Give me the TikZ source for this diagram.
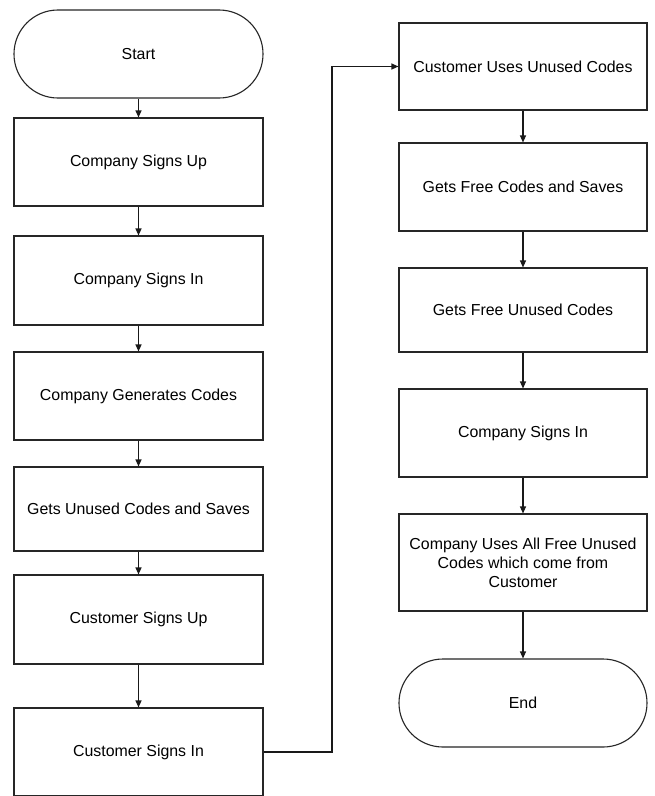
\documentclass[tikz,border=0pt]{standalone}
\usepackage{fontspec}
\setmainfont{Liberation Sans}
\usetikzlibrary{arrows.meta}
\begin{document}
\begin{tikzpicture}[x=1pt,y=-1pt,
  every node/.style={font=\fontsize{15.9}{19}\selectfont, align=center, inner sep=0pt, line width=1.1pt, draw=black!85},
  lbox/.style={rectangle, minimum width=249pt},
  rbox/.style={rectangle, minimum width=248pt},
  term/.style={rectangle, rounded corners=43.9pt},
  conn/.style={line width=1.1pt, draw=black!90, -{Triangle[length=7pt,width=6pt]}}]
\useasboundingbox (0,0) rectangle (654,796);
\fill[white] (0,0) rectangle (654,796);
\begin{scope}
\clip (0,0) rectangle (654,796);
% left column
\node[term, minimum width=249pt, minimum height=88pt] (start) at (138.5,54) {Start};
\node[lbox, minimum height=88pt] (csu) at (138.5,162) {Company Signs Up};
\node[lbox, minimum height=89pt] (csi) at (138.5,280.5) {Company Signs In};
\node[lbox, minimum height=88pt] (cgc) at (138.5,396) {Company Generates Codes};
\node[lbox, minimum height=84pt] (guc) at (138.5,509) {Gets Unused Codes and Saves};
\node[lbox, minimum height=89pt] (cusu) at (138.5,619.5) {Customer Signs Up};
\node[lbox, minimum height=88pt] (cusi) at (138.5,752) {Customer Signs In};
% right column
\node[rbox, minimum height=87pt] (cuuc) at (523,66.5) {Customer Uses Unused Codes};
\node[rbox, minimum height=88pt] (gfcs) at (523,187) {Gets Free Codes and Saves};
\node[rbox, minimum height=84pt] (gfuc) at (523,310) {Gets Free Unused Codes};
\node[rbox, minimum height=88pt] (csi2) at (523,433) {Company Signs In};
\node[rbox, minimum height=97pt] (cua) at (523,562.5) {Company Uses All Free Unused\\Codes which come from\\Customer};
\node[term, minimum width=248pt, minimum height=88pt] (end) at (523,703) {End};
% connectors
\draw[conn] (start) -- (csu);
\draw[conn] (csu) -- (csi);
\draw[conn] (csi) -- (cgc);
\draw[conn] (cgc) -- (guc);
\draw[conn] (guc) -- (cusu);
\draw[conn] (cusu) -- (cusi);
\coordinate (bendlow) at (332,752);
\coordinate (bendhigh) at (332,66.5);
\draw[conn] (cusi.east) -- (bendlow) -- (bendhigh) -- (cuuc.west);
\draw[conn] (cuuc) -- (gfcs);
\draw[conn] (gfcs) -- (gfuc);
\draw[conn] (gfuc) -- (csi2);
\draw[conn] (csi2) -- (cua);
\draw[conn] (cua) -- (end);
\end{scope}
\end{tikzpicture}
\end{document}
